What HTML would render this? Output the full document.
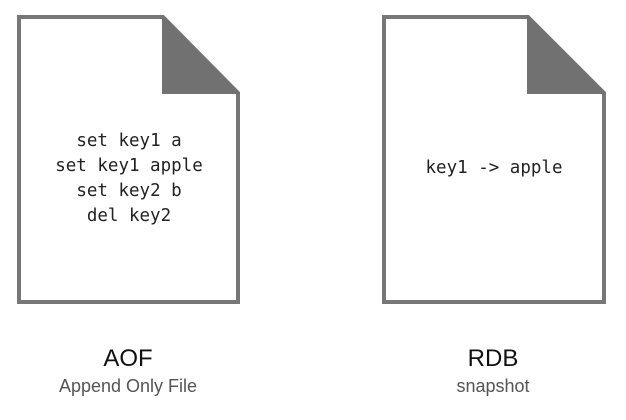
<!DOCTYPE html>
<html><head><style>
body{margin:0;width:626px;height:415px;background:#fff;overflow:hidden}
</style></head><body>
<svg width="626" height="415" xmlns="http://www.w3.org/2000/svg">
<g fill="#fff" stroke="#777" stroke-width="4" stroke-linejoin="miter">
<path d="M19 17 H163 L238 93 V302 H19 Z"/>
<path d="M384 17 H528 L604 93 V302 H384 Z"/>
</g>
<g fill="#717171" stroke="#717171" stroke-width="2">
<path d="M163 17 L238 93 H163 Z"/>
<path d="M528 17 L604 93 H528 Z"/>
</g>
<g font-family="'DejaVu Sans Mono','Liberation Mono',monospace" font-size="17.5" fill="#222" text-anchor="middle">
<text x="129" y="146">set key1 a</text>
<text x="129" y="171">set key1 apple</text>
<text x="129" y="196">set key2 b</text>
<text x="129" y="221">del key2</text>
<text x="494" y="173">key1 -&gt; apple</text>
</g>
<g font-family="'Liberation Sans',sans-serif" text-anchor="middle">
<text x="128" y="366" font-size="24" fill="#111">AOF</text>
<text x="128" y="392" font-size="18" fill="#555">Append Only File</text>
<text x="493" y="366" font-size="24" fill="#111">RDB</text>
<text x="493" y="392" font-size="18" fill="#555">snapshot</text>
</g>
</svg>
</body></html>
